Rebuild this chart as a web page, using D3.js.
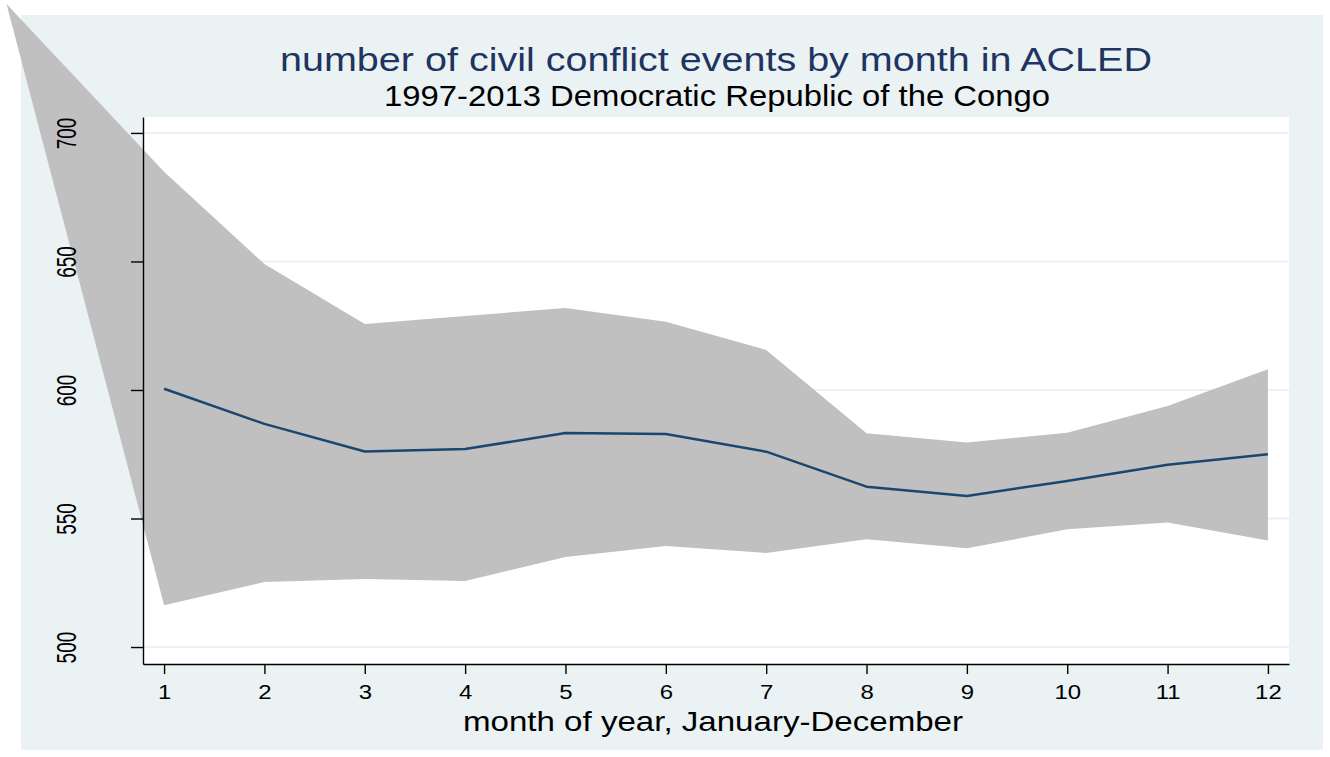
<!DOCTYPE html>
<html>
<head>
<meta charset="utf-8">
<script src="https://cdn.jsdelivr.net/npm/d3@7"></script>
<style>
  html, body { margin: 0; padding: 0; background: #ffffff; }
  svg { display: block; }
  text { font-family: "Liberation Sans", Arial, Helvetica, sans-serif; }
</style>
</head>
<body>
<svg id="chart" width="1330" height="757"></svg>
<script>
// Monthly counts of civil conflict events (ACLED, DR Congo 1997-2013)
const months = [1, 2, 3, 4, 5, 6, 7, 8, 9, 10, 11, 12];
const meanEvents = [600.5, 586.8, 576.1, 577.0, 583.3, 582.9, 576.0, 562.4, 558.8, 564.6, 570.9, 575.0];
const upperBound = [684.9, 649.0, 625.7, 628.8, 631.9, 626.5, 615.6, 583.2, 579.6, 583.4, 593.8, 608.1];
const lowerBound = [516.3, 525.3, 526.5, 525.7, 535.0, 539.3, 536.6, 541.9, 538.4, 545.8, 548.4, 541.4];
// the shaded band opens from a single point ahead of January
const bandOrigin = { month: -0.57, value: 750.2 };
const yTickValues = [500, 550, 600, 650, 700];
const titleText = "number of civil conflict events by month in ACLED";
const subtitleText = "1997-2013 Democratic Republic of the Congo";
const xTitleText = "month of year, January-December";

const svg = d3.select("#chart");
const W = 1330, H = 757;
const plot = { left: 143, right: 1289, top: 117, bottom: 664 };

const x = d3.scaleLinear().domain([0.79, 12.21]).range([plot.left, plot.right]);
const y = d3.scaleLinear().domain([493.4, 706.2]).range([plot.bottom, plot.top]);

// outer graph region
svg.append("rect").attr("x", 21).attr("y", 15).attr("width", 1302).attr("height", 735)
  .attr("fill", "#eaf2f3");
// plot region
svg.append("rect").attr("x", plot.left).attr("y", plot.top)
  .attr("width", plot.right - plot.left).attr("height", plot.bottom - plot.top)
  .attr("fill", "#ffffff");

// horizontal grid lines
svg.append("g").selectAll("line").data(yTickValues).join("line")
  .attr("x1", plot.left).attr("x2", plot.right)
  .attr("y1", d => y(d)).attr("y2", d => y(d))
  .attr("stroke", "#eaf2f3").attr("stroke-width", 2);

// confidence band
const bandData = [{ m: bandOrigin.month, lo: bandOrigin.value, hi: bandOrigin.value }]
  .concat(months.map((m, i) => ({ m, lo: lowerBound[i], hi: upperBound[i] })));
const area = d3.area().x(d => x(d.m)).y0(d => y(d.lo)).y1(d => y(d.hi));
svg.append("path").datum(bandData).attr("d", area).attr("fill", "#c0c0c0");

// mean line
const line = d3.line().x((d, i) => x(months[i])).y(d => y(d));
svg.append("path").datum(meanEvents).attr("d", line)
  .attr("fill", "none").attr("stroke", "#1a476f").attr("stroke-width", 2.5)
  .attr("stroke-linejoin", "round");

// y axis
const yAxis = svg.append("g").attr("transform", `translate(${plot.left},0)`)
  .call(d3.axisLeft(y).tickValues(yTickValues).tickSize(12).tickSizeOuter(0).tickFormat(d3.format("d")));
yAxis.select(".domain").attr("stroke", "#000").attr("stroke-width", 1.4);
yAxis.selectAll(".tick line").attr("stroke", "#000").attr("stroke-width", 1.4);
yAxis.selectAll(".tick text")
  .attr("x", null).attr("dy", null)
  .attr("text-anchor", "middle")
  .attr("font-size", 19).attr("fill", "#000")
  .attr("transform", "translate(-67,0) scale(1.45,1) rotate(-90)");

// x axis
const xAxis = svg.append("g").attr("transform", `translate(0,${plot.bottom})`)
  .call(d3.axisBottom(x).tickValues(months).tickSize(10).tickSizeOuter(0).tickFormat(d3.format("d")));
xAxis.select(".domain").attr("stroke", "#000").attr("stroke-width", 1.4);
xAxis.selectAll(".tick line").attr("stroke", "#000").attr("stroke-width", 1.4);
xAxis.selectAll(".tick text")
  .attr("y", null).attr("dy", null)
  .attr("text-anchor", "middle")
  .attr("font-size", 21).attr("fill", "#000")
  .attr("transform", "translate(0,35.3) scale(1.14,1)");

// titles
function wideText(str, cx, baseline, size, width, color) {
  svg.append("text").attr("x", cx).attr("y", baseline)
    .attr("text-anchor", "middle").attr("font-size", size).attr("fill", color)
    .attr("textLength", width).attr("lengthAdjust", "spacingAndGlyphs")
    .text(str);
}
wideText(titleText, 716, 71, 32.5, 872, "#1f3461");
wideText(subtitleText, 717, 105.5, 29.5, 666, "#000000");
wideText(xTitleText, 713, 731, 28, 500, "#000000");
</script>
</body>
</html>
